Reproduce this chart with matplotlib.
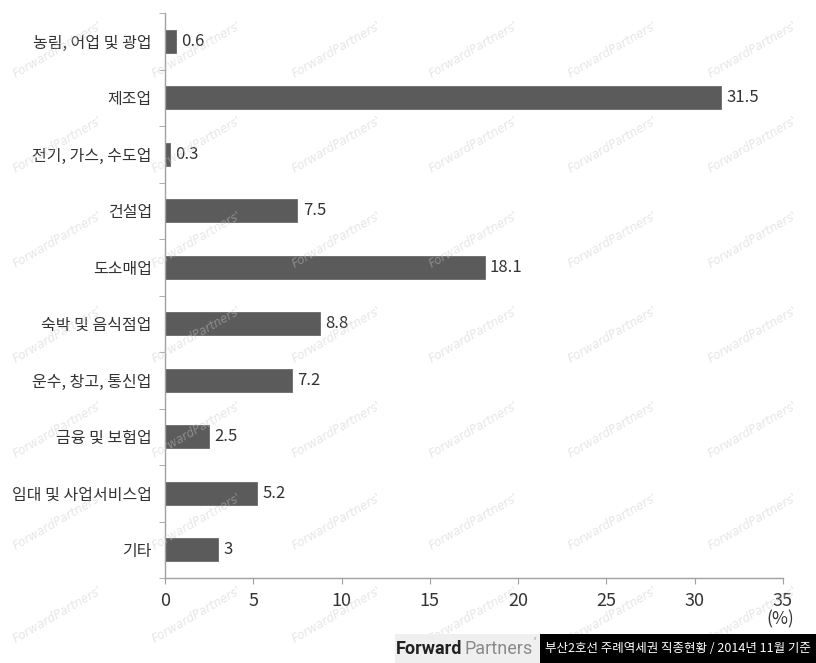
import matplotlib
matplotlib.use("Agg")
import matplotlib.pyplot as plt
import numpy as np
from matplotlib.patches import Rectangle

plt.rcParams['font.family'] = ['Noto Sans CJK KR', 'DejaVu Sans']

categories = ['농림, 어업 및 광업', '제조업', '전기, 가스, 수도업', '건설업', '도소매업',
              '숙박 및 음식점업', '운수, 창고, 통신업', '금융 및 보험업', '임대 및 사업서비스업', '기타']
values = [0.6, 31.5, 0.3, 7.5, 18.1, 8.8, 7.2, 2.5, 5.2, 3]
value_labels = ['0.6', '31.5', '0.3', '7.5', '18.1', '8.8', '7.2', '2.5', '5.2', '3']
xticks = [0, 5, 10, 15, 20, 25, 30, 35]
unit_label = '(%)'
footer_text = '부산2호선 주례역세권 직종현황 / 2014년 11월 기준'

W, H = 816, 663
fig = plt.figure(figsize=(W / 100, H / 100), dpi=100)
fig.patch.set_facecolor('white')
ax = fig.add_axes([165 / W, (H - 578) / H, (783 - 165) / W, (578 - 13) / H])

y = np.arange(len(categories))
bar_color = '#5b5b5b'
ax.barh(y, values, height=0.4, color=bar_color, edgecolor='#6a6a6a', linewidth=0.6, zorder=2)
for yi, v, lab in zip(y, values, value_labels):
    ax.text(v + 0.3, yi, lab, va='center', ha='left', fontsize=12, color='#333333')

ax.set_xlim(0, 35)
ax.set_ylim(len(categories) - 0.5, -0.5)
ax.set_xticks(xticks)
ax.set_xticklabels([str(t) for t in xticks], fontsize=13, color='#333333')
ax.set_yticks(y)
ax.set_yticklabels(categories, fontsize=11.5, color='#333333')
ax.set_yticks(np.arange(-0.5, len(categories), 1.0), minor=True)

for s in ['top', 'right']:
    ax.spines[s].set_visible(False)
for s in ['left', 'bottom']:
    ax.spines[s].set_color('#a0a0a0')
    ax.spines[s].set_linewidth(1.0)

ax.tick_params(axis='y', which='major', length=0, pad=9.5)
ax.tick_params(axis='y', which='minor', length=4, color='#a0a0a0', direction='out')
ax.tick_params(axis='x', which='major', length=4, color='#a0a0a0', direction='out', pad=6)

fig.text(780 / W, 1 - 619 / H, unit_label, ha='center', va='center', fontsize=12.5, color='#333333')

# watermarks
for cx in [58, 197, 337, 474, 613, 753]:
    for cy in [50, 145, 240, 335, 430, 522, 615]:
        fig.text(cx / W, 1 - cy / H, "ForwardPartners'", ha='center', va='center', rotation=30,
                 fontsize=8.5, style='italic', color='#c8c8c8', alpha=0.45, zorder=5,
                 family=['DejaVu Sans'])

# footer
fig.patches.append(Rectangle((395 / W, 0), (540 - 395) / W, 29 / H, transform=fig.transFigure,
                             facecolor='#efefef', edgecolor='none', zorder=6))
fig.patches.append(Rectangle((540 / W, 0), (W - 540) / W, 29 / H, transform=fig.transFigure,
                             facecolor='black', edgecolor='none', zorder=6))
fig.text(462 / W, 1 - 649 / H, 'Forward', ha='right', va='center', fontsize=13,
         fontweight='bold', color='#222222', zorder=7, family=['Roboto', 'DejaVu Sans'])
fig.text(464 / W, 1 - 649 / H, 'Partners', ha='left', va='center', fontsize=13,
         color='#8a8a8a', zorder=7, family=['Roboto', 'DejaVu Sans'])
fig.text(533 / W, 1 - 641 / H, "'", ha='left', va='center', fontsize=8,
         color='#8a8a8a', zorder=7, family=['Roboto', 'DejaVu Sans'])
fig.text(678 / W, 1 - 648 / H, footer_text, ha='center', va='center', fontsize=9,
         color='white', zorder=7)

fig.savefig('out.png', dpi=100)
